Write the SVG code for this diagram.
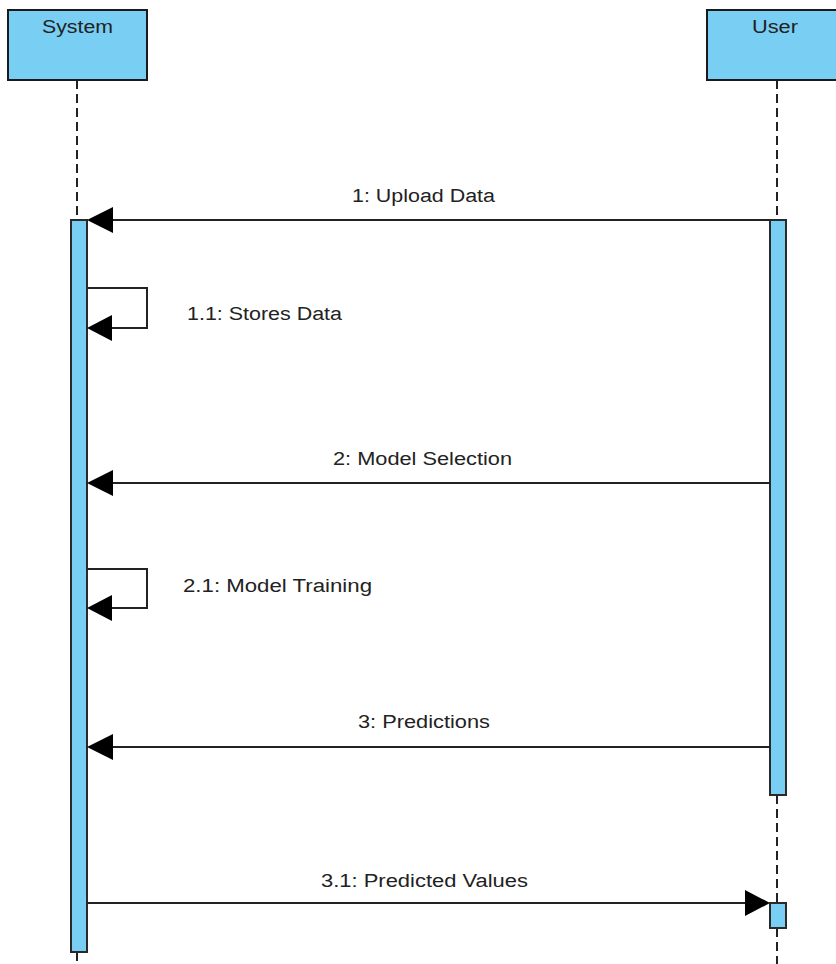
<svg xmlns="http://www.w3.org/2000/svg" width="836" height="964" viewBox="0 0 836 964">
<style>
.box{fill:#79CEF3;stroke:#1a1a1a;stroke-width:2}
.bar{fill:#79CEF3;stroke:#2a2a2a;stroke-width:2}
.life{stroke:#222;stroke-width:2;stroke-dasharray:9,5;fill:none}
.msg{stroke:#222;stroke-width:2;fill:none}
.head{fill:#000}
text{font-family:"Liberation Sans",Arial,sans-serif;font-size:18px;fill:#222}
</style>
<rect width="836" height="964" fill="#fff"/>
<g id="lifelines">
<line class="life" x1="77" y1="80" x2="77" y2="220"/>
<line class="life" x1="77" y1="952" x2="77" y2="964"/>
<line class="life" x1="777" y1="80" x2="777" y2="220"/>
<line class="life" x1="777" y1="795" x2="777" y2="903"/>
<line class="life" x1="777" y1="928" x2="777" y2="964"/>
</g>
<g id="system">
<rect class="box" x="8" y="10" width="139" height="70"/>
<text x="42" y="33" textLength="71" lengthAdjust="spacingAndGlyphs">System</text>
<rect class="bar" x="71" y="220" width="16" height="732"/>
</g>
<g id="user">
<rect class="box" x="707" y="10" width="140" height="70"/>
<text x="752" y="33" textLength="46" lengthAdjust="spacingAndGlyphs">User</text>
<rect class="bar" x="770" y="220" width="16" height="575"/>
<rect class="bar" x="770" y="903" width="16" height="25"/>
</g>
<g id="connectors">
<line class="msg" x1="770" y1="220" x2="100" y2="220"/>
<polygon class="head" points="87,220 113,207 113,233"/>
<text x="352" y="202" textLength="143" lengthAdjust="spacingAndGlyphs">1: Upload Data</text>

<polyline class="msg" points="87,288 147,288 147,328 100,328"/>
<polygon class="head" points="87,328 112,315 112,341"/>
<text x="187" y="320" textLength="155" lengthAdjust="spacingAndGlyphs">1.1: Stores Data</text>

<line class="msg" x1="770" y1="483" x2="100" y2="483"/>
<polygon class="head" points="87,483 113,470 113,496"/>
<text x="333" y="465" textLength="179" lengthAdjust="spacingAndGlyphs">2: Model Selection</text>

<polyline class="msg" points="87,569 147,569 147,608 100,608"/>
<polygon class="head" points="87,608 112,595 112,621"/>
<text x="183" y="592" textLength="189" lengthAdjust="spacingAndGlyphs">2.1: Model Training</text>

<line class="msg" x1="770" y1="747" x2="100" y2="747"/>
<polygon class="head" points="87,747 113,734 113,760"/>
<text x="358" y="728" textLength="132" lengthAdjust="spacingAndGlyphs">3: Predictions</text>

<line class="msg" x1="87" y1="903" x2="757" y2="903"/>
<polygon class="head" points="770,903 745,890 745,916"/>
<text x="321" y="887" textLength="207" lengthAdjust="spacingAndGlyphs">3.1: Predicted Values</text>
</g>
</svg>
